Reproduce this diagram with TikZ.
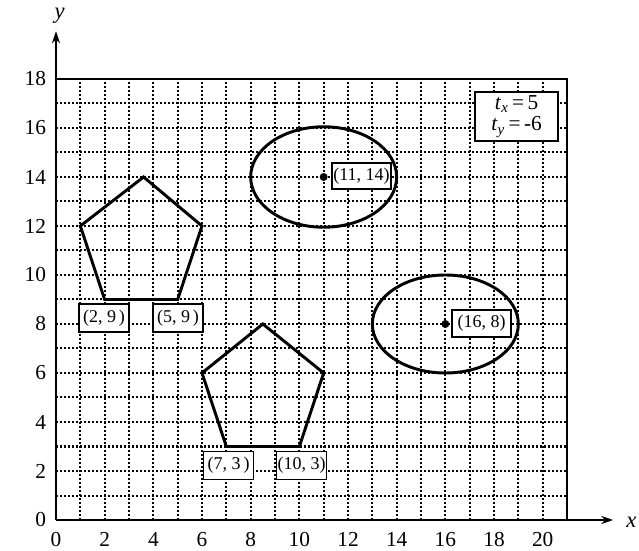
\documentclass[tikz,border=0pt]{standalone}
\usepackage{fontspec}
\setmainfont{Liberation Serif}
\usetikzlibrary{arrows.meta}
\tikzset{
  gridline/.style={line width=1.5pt, dash pattern=on 1.5pt off 1.5pt},
  frameline/.style={line width=2.2pt},
  shapeline/.style={line width=2.2pt, line join=miter},
  axisarrow/.style={line width=2.2pt, -{Stealth[length=9pt,width=6pt]}},
  ticklbl/.style={font=\fontsize{16}{16}\selectfont, inner sep=0pt},
  ptbox/.style={draw, line width=1.1pt, fill=white, inner sep=0pt, font=\fontsize{13.5}{13.5}\selectfont},
  smallbox/.style={ptbox, minimum width=37.5pt, minimum height=21pt},
  widebox/.style={ptbox, minimum width=44.25pt, minimum height=19.5pt},
  dotmark/.style={fill=black, circle, inner sep=0pt, minimum size=6pt}
}
\begin{document}
\begin{tikzpicture}[x=18.25pt, y=18.375pt]
\useasboundingbox (-42pt,-22.5pt) rectangle (437.25pt,390pt);
% grid
\foreach \i in {1,...,20} \draw[gridline] (\i,0) -- (\i,18);
\foreach \j in {1,...,17} \draw[gridline] (0,\j) -- (21,\j);
% frame and axes
\coordinate (O) at (0,0);
\coordinate (xend) at (22.9,0);
\coordinate (yend) at (0,19.95);
\draw[frameline] (0,18) -- (21,18) -- (21,0);
\draw[axisarrow] (O) -- (xend);
\draw[axisarrow] (O) -- (yend);
\node[font=\fontsize{17}{17}\selectfont\itshape, inner sep=0pt] (xlab) at (23.65,-0.08) {x};
\node[font=\fontsize{17}{17}\selectfont\itshape, inner sep=0pt] (ylab) at (0.15,20.6) {y};
% tick labels
\foreach \v in {0,2,...,20} \node[ticklbl] (xt\v) at (\v,-0.8) {\v};
\foreach \v in {0,2,...,18} \node[ticklbl, anchor=east] (yt\v) at (-0.4,\v) {\v};
% pentagon 1
\coordinate (a1) at (2,9);
\coordinate (a2) at (5,9);
\coordinate (a3) at (6,12);
\coordinate (a4) at (3.6,14);
\coordinate (a5) at (1,12);
\draw[shapeline] (a1) -- (a2) -- (a3) -- (a4) -- (a5) -- cycle;
% pentagon 2
\coordinate (b1) at (7,3);
\coordinate (b2) at (10,3);
\coordinate (b3) at (11,6);
\coordinate (b4) at (8.5,8);
\coordinate (b5) at (6,6);
\draw[shapeline] (b1) -- (b2) -- (b3) -- (b4) -- (b5) -- cycle;
% ellipses
\draw[shapeline] (11,14) ellipse [x radius=3, y radius=2.05];
\draw[shapeline] (16,8) ellipse [x radius=3, y radius=2];
\node[dotmark] (c1) at (11,14) {};
\node[dotmark] (c2) at (16,8) {};
% labels
\node[widebox] (l1) at (12.556,14.04) {(11, 14)};
\node[widebox, minimum height=20.25pt] (l2) at (17.49,8.02) {(16, 8)};
\node[smallbox] (l3) at (1.973,8.245) {(2, 9\,)};
\node[smallbox] (l4) at (5.014,8.245) {(5, 9\,)};
\node[smallbox] (l5) at (7.09,2.224) {(7, 3\,)};
\node[smallbox] (l6) at (10.09,2.224) {(10, 3)};
% translation box
\node[draw, line width=1.1pt, fill=white, minimum width=62.25pt, minimum height=36.75pt, inner sep=0pt, align=center, font=\fontsize{16}{17}\selectfont] (tb) at (18.93,16.47)
  {\textit{t}\textsubscript{\textit{x}}\,=\,5\\[-1pt]\textit{t}\textsubscript{\textit{y}}\,=\,-6};
\end{tikzpicture}
\end{document}
